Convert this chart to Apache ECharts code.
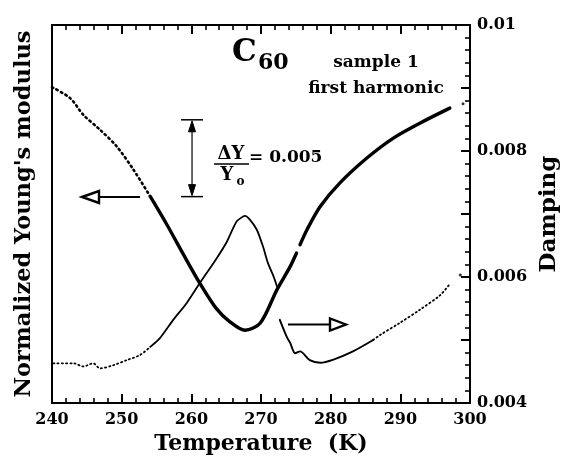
<!DOCTYPE html>
<html>
<head>
<meta charset="utf-8">
<script src="https://cdn.jsdelivr.net/npm/echarts@6/dist/echarts.min.js"></script>
<style>
html,body{margin:0;padding:0;background:#fff;}
#c{width:561px;height:458px;}
</style>
</head>
<body>
<div id="c"></div>
<script>
// ---- data ----
const xTicks = [240, 250, 260, 270, 280, 290, 300];
const dampTickLabels = ['0.004', '0.006', '0.008', '0.01'];

// Normalized Young's modulus (left axis, arbitrary normalized units)
const youngDottedT = [240, 242.6, 244.5, 246.9, 249.3, 251.7, 254.1];
const youngDottedY = [0.99595, 0.99524, 0.99415, 0.99318, 0.99209, 0.99058, 0.98884];
const youngSolidT1 = [254.1, 256.5, 258.8, 261.2, 263.6, 265.5, 267.7, 269.9, 272.3, 274.2, 275.1];
const youngSolidY1 = [0.98884, 0.98700, 0.98512, 0.98321, 0.98154, 0.98070, 0.98013, 0.98061, 0.98278, 0.98429, 0.98516];
const youngSolidT2 = [275.6, 276.6, 278.5, 281.3, 285.2, 289.0, 292.8, 297.1];
const youngSolidY2 = [0.98570, 0.98668, 0.98819, 0.98971, 0.99134, 0.99264, 0.99361, 0.99459];
const youngDotT = [299.0];
const youngDotY = [0.99487];

// Damping (right axis)
const dampLowT = [240.2, 243.1, 244.5, 245.9, 246.9, 248.8, 250.7, 252.6, 254.1];
const dampLowD = [0.00463, 0.00463, 0.00458, 0.00463, 0.00455, 0.00460, 0.00468, 0.00476, 0.00489];
const dampPeakT = [254.1, 255.5, 257.4, 259.3, 261.2, 263.6, 265.1, 266.5, 267.7, 268.4, 269.4, 270.3, 271.0, 271.8, 272.3];
const dampPeakD = [0.00489, 0.00503, 0.00532, 0.00558, 0.00590, 0.00629, 0.00656, 0.00688, 0.00697, 0.00691, 0.00675, 0.00648, 0.00622, 0.00601, 0.00585];
const dampMinT = [272.7, 273.7, 274.2, 274.9, 275.6, 277.0, 278.5, 280.4, 283.2, 286.1];
const dampMinD = [0.00532, 0.00505, 0.00495, 0.00479, 0.00482, 0.00468, 0.00464, 0.00469, 0.00482, 0.00500];
const dampHighT = [286.1, 287.1, 289.9, 292.8, 295.7, 297.1];
const dampHighD = [0.00500, 0.00508, 0.00527, 0.00548, 0.00571, 0.00589];
const dampDotT = [298.6];
const dampDotD = [0.00603];

// scale bar: ΔY/Yo = 0.005
const scaleBarT = 260.1;
const scaleBarTop = 0.99383;
const scaleBarDelta = 0.005;

// ---- chart ----
const FONT = "'DejaVu Serif', serif";
const zip = (a, b) => a.map((v, i) => [v, b[i]]);
const chart = echarts.init(document.getElementById('c'), null, {renderer: 'canvas'});

const axisLineStyle = {color: '#000', width: 2};
const xAxisCommon = {
  type: 'value', min: 240, max: 300, interval: 10,
  axisLine: {show: true, onZero: false, lineStyle: axisLineStyle},
  axisTick: {show: true, inside: true, length: 9, lineStyle: {color: '#000', width: 2}},
  minorTick: {show: true, splitNumber: 5, length: 5, lineStyle: {color: '#000', width: 1.6}},
  splitLine: {show: false}, minorSplitLine: {show: false}
};

const lineSeries = (data, yIdx, width, type, smooth) => ({
  type: 'line', data: data, xAxisIndex: 0, yAxisIndex: yIdx,
  showSymbol: false, smooth: smooth === undefined ? 0.3 : smooth, animation: false, silent: true,
  lineStyle: {color: '#000', width: width, type: type, cap: 'round'}
});
const dotSeries = (data, yIdx) => ({
  type: 'scatter', data: data, xAxisIndex: 0, yAxisIndex: yIdx,
  symbolSize: 3, itemStyle: {color: '#000'}, animation: false, silent: true
});

chart.setOption({
  animation: false,
  backgroundColor: '#fff',
  grid: {left: 52, right: 91, top: 25, bottom: 55, show: false, containLabel: false, outerBoundsMode: 'none'},
  xAxis: [
    Object.assign({}, xAxisCommon, {
      position: 'bottom',
      axisLabel: {show: true, color: '#000', fontFamily: FONT, fontWeight: 'bold', fontSize: 16, margin: 9,
        formatter: v => (xTicks.indexOf(v) >= 0 ? String(v) : '')},
      name: 'Temperature  (K)', nameLocation: 'middle', nameGap: 27,
      nameTextStyle: {color: '#000', fontFamily: FONT, fontWeight: 'bold', fontSize: 22}
    }),
    Object.assign({}, xAxisCommon, {position: 'top', axisLabel: {show: false}})
  ],
  yAxis: [
    {
      type: 'value', min: 0.9754, max: 1.0, position: 'left',
      axisLine: {show: true, onZero: false, lineStyle: axisLineStyle},
      axisTick: {show: false}, axisLabel: {show: false}, splitLine: {show: false},
      name: "Normalized Young's modulus", nameLocation: 'middle', nameRotate: 90, nameGap: 16,
      nameTextStyle: {color: '#000', fontFamily: FONT, fontWeight: 'bold', fontSize: 22.5}
    },
    {
      type: 'value', min: 0.004, max: 0.01, interval: 0.001, position: 'right',
      axisLine: {show: true, onZero: false, lineStyle: axisLineStyle},
      axisTick: {show: true, inside: true, length: 9, lineStyle: {color: '#000', width: 2}},
      minorTick: {show: true, splitNumber: 5, length: 5, lineStyle: {color: '#000', width: 1.6}},
      splitLine: {show: false},
      axisLabel: {show: true, color: '#000', fontFamily: FONT, fontWeight: 'bold', fontSize: 16, margin: 7,
        formatter: v => {
          const s = v >= 0.0099 ? '0.01' : v.toFixed(3);
          return dampTickLabels.indexOf(s) >= 0 ? s : '';
        }},
      name: 'Damping', nameLocation: 'middle', nameRotate: 90, nameGap: 63,
      nameTextStyle: {color: '#000', fontFamily: FONT, fontWeight: 'bold', fontSize: 23}
    }
  ],
  series: [
    lineSeries(zip(youngDottedT, youngDottedY), 0, 2.6, [1.5, 3.6]),
    lineSeries(zip(youngSolidT1, youngSolidY1), 0, 3.4, 'solid'),
    lineSeries(zip(youngSolidT2, youngSolidY2), 0, 3.4, 'solid'),
    dotSeries(zip(youngDotT, youngDotY), 0),
    lineSeries(zip(dampLowT, dampLowD), 1, 1.8, [1.2, 3]),
    lineSeries(zip(dampPeakT, dampPeakD), 1, 1.8, 'solid', 0.2),
    lineSeries(zip(dampMinT, dampMinD), 1, 1.9, 'solid'),
    lineSeries(zip(dampHighT, dampHighD), 1, 1.8, [1.2, 3]),
    dotSeries(zip(dampDotT, dampDotD), 1)
  ]
});

// ---- annotations ----
const barTopPx = chart.convertToPixel({xAxisIndex: 0, yAxisIndex: 0}, [scaleBarT, scaleBarTop]);
const barBotPx = chart.convertToPixel({xAxisIndex: 0, yAxisIndex: 0}, [scaleBarT, scaleBarTop - scaleBarDelta]);
const bx = barTopPx[0], ty = barTopPx[1], by = barBotPx[1];
const txt = (x, y, s, size, align, extra) => ({
  type: 'text', silent: true,
  style: Object.assign({x: x, y: y, text: s, fill: '#000', fontFamily: FONT, fontWeight: 'bold',
    fontSize: size, align: align || 'center', verticalAlign: 'middle'}, extra || {})
});
const ln = (x1, y1, x2, y2, w) => ({type: 'line', silent: true, shape: {x1, y1, x2, y2}, style: {stroke: '#000', lineWidth: w}});
const poly = (pts, fill, w) => ({type: 'polygon', silent: true, shape: {points: pts}, style: {fill: fill, stroke: '#000', lineWidth: w, lineJoin: 'miter'}});

chart.setOption({
  graphic: [
    txt(232, 53, 'C', 31, 'left'),
    txt(258, 63, '60', 22, 'left'),
    txt(376, 63, 'sample 1', 17),
    txt(376, 89, 'first harmonic', 17),
    // scale bar
    ln(bx - 11, ty, bx + 11, ty, 1.5),
    ln(bx - 11, by, bx + 11, by, 1.5),
    ln(bx, ty + 8, bx, by - 8, 1.2),
    poly([[bx, ty + 1], [bx - 3.5, ty + 12], [bx + 3.5, ty + 12]], '#000', 1),
    poly([[bx, by - 1], [bx - 3.5, by - 12], [bx + 3.5, by - 12]], '#000', 1),
    // fraction
    txt(231, 154, '\u0394Y', 18),
    ln(214, 164, 249, 164, 1.5),
    txt(227, 175, 'Y', 18),
    txt(240.5, 182, 'o', 12),
    txt(249, 158, '= 0.005', 17, 'left'),
    // arrows
    ln(98, 197, 140, 197, 2),
    poly([[82, 197], [99, 191], [99, 203]], '#fff', 2.4),
    ln(288, 324.5, 331, 324.5, 2),
    poly([[346, 324.5], [330, 318.5], [330, 330.5]], '#fff', 2.4)
  ]
});
</script>
</body>
</html>
